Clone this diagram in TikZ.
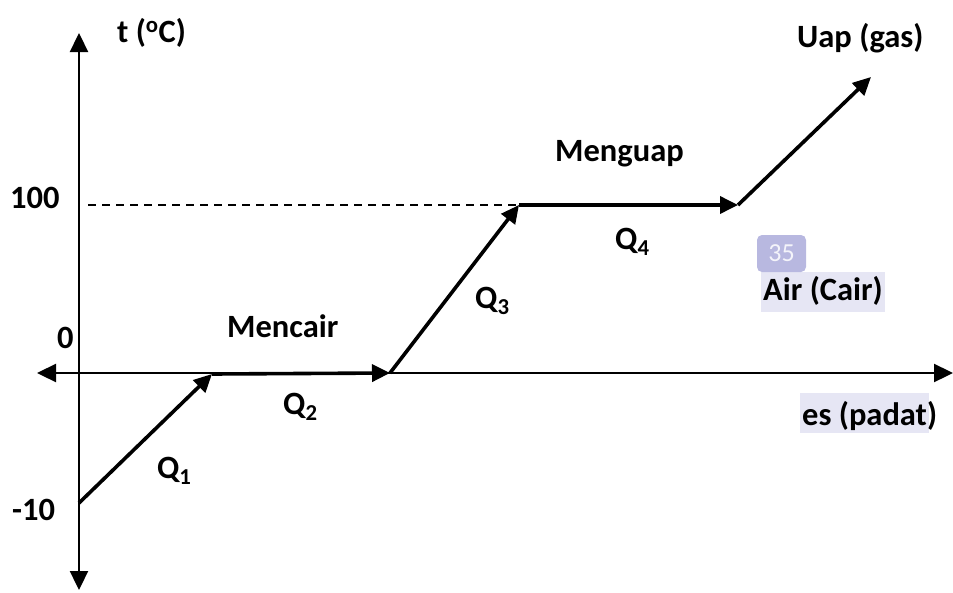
\documentclass[tikz,border=0pt]{standalone}
\usepackage{fontspec}
\setmainfont{Carlito}
\usetikzlibrary{arrows.meta}
\definecolor{hilite}{HTML}{E6E6F4}
\definecolor{badge}{HTML}{B8B8E0}
\begin{document}
\begin{tikzpicture}[x=1pt,y=-1pt,
  lbl/.style={inner sep=0pt,anchor=base west,font=\fontsize{32.5}{36}\selectfont\bfseries},
  axis/.style={line width=2.3pt,-{Triangle[length=19pt,width=18pt]}},
  seg/.style={line width=3.6pt,-{Triangle[length=18pt,width=17pt]}},
  guide/.style={line width=1.8pt,dash pattern=on 8pt off 6pt}]
\useasboundingbox (0,0) rectangle (953,592);
% highlight boxes
\fill[hilite] (761,272) rectangle (885,312);
\fill[hilite] (800,393) rectangle (929,433);
\fill[badge,rounded corners=5pt] (757,235) rectangle (806,272);
\node[inner sep=0pt,text=white!85!badge,font=\fontsize{26}{28}\selectfont] (badge) at (781.5,253.5) {35};
% coordinates
\coordinate (O) at (79,373);
\coordinate (ytop) at (79,33);
\coordinate (ybot) at (79,590);
\coordinate (xleft) at (37,373);
\coordinate (xright) at (953,373);
\coordinate (A) at (79,503);
\coordinate (B) at (212,374);
\coordinate (C) at (390,373);
\coordinate (D) at (519,205);
\coordinate (E) at (738,205);
\coordinate (F) at (871,77);
\coordinate (dstart) at (88,205);
% axes
\draw[axis] (O) -- (ytop);
\draw[axis] (O) -- (ybot);
\draw[axis] (O) -- (xleft);
\draw[axis] (O) -- (xright);
% dashed guide
\draw[guide] (dstart) -- (D);
% heating curve
\draw[seg] (A) -- (B);
\draw[seg] (B) -- (C);
\draw[seg] (C) -- (D);
\draw[seg] (D) -- (E);
\draw[seg] (E) -- (F);
% labels
\node[lbl] (tlabel) at (117,42) {t (\textsuperscript{o}C)};
\node[lbl] (l100) at (10,208) {100};
\node[lbl] (l0) at (57,348) {0};
\node[lbl] (lm10) at (12,520) {-10};
\node[lbl] (q1) at (157,478) {Q\textsubscript{1}};
\node[lbl] (q2) at (283,414) {Q\textsubscript{2}};
\node[lbl] (q3) at (475,308) {Q\textsubscript{3}};
\node[lbl] (q4) at (615,249) {Q\textsubscript{4}};
\node[lbl] (mencair) at (227,337) {Mencair};
\node[lbl] (menguap) at (555,161) {Menguap};
\node[lbl] (uap) at (797,47) {Uap (gas)};
\node[lbl] (air) at (763,300) {Air (Cair)};
\node[lbl] (es) at (802,425) {es (padat)};
\end{tikzpicture}
\end{document}
